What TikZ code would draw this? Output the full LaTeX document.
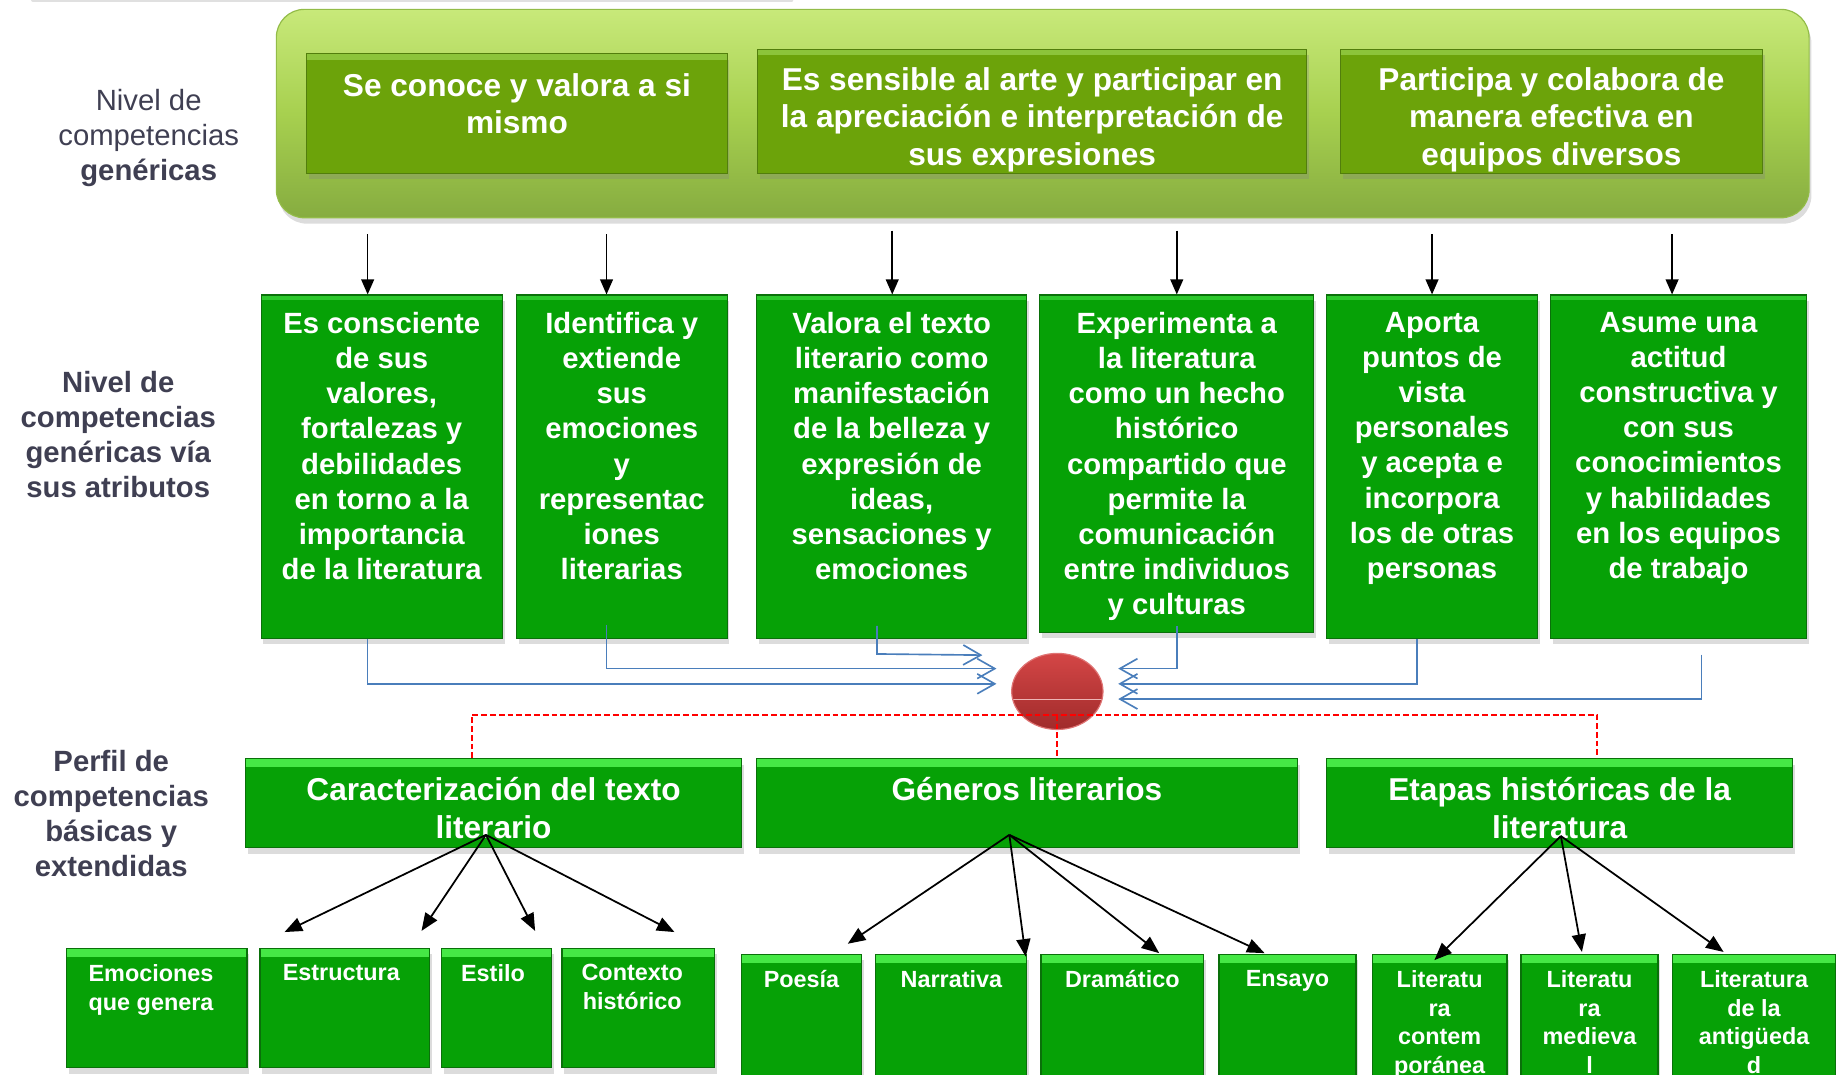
\documentclass[tikz,border=0pt]{standalone}
\usepackage{fontspec}
\setmainfont{Liberation Sans}
\usetikzlibrary{arrows.meta,shadows,positioning,shapes.geometric}

\definecolor{leafgreen}{HTML}{06A106}
\definecolor{leafedge}{HTML}{0A700A}
\definecolor{leaftop}{HTML}{45E845}
\definecolor{midtop}{HTML}{2CC82C}
\definecolor{olive}{HTML}{6CA30A}
\definecolor{oliveedge}{HTML}{527E0C}
\definecolor{olivetop}{HTML}{8CC43A}
\definecolor{limetop}{HTML}{C8E97A}
\definecolor{limemid}{HTML}{A7D04F}
\definecolor{limebot}{HTML}{86AC40}
\definecolor{limeedge}{HTML}{93BC48}
\definecolor{slate}{HTML}{3F3F52}
\definecolor{feedblue}{HTML}{4A7EBB}
\definecolor{eggtop}{HTML}{D44646}
\definecolor{eggbot}{HTML}{A02B2B}

\tikzset{
  sombra/.style={drop shadow={opacity=0.28, shadow xshift=2pt, shadow yshift=-5pt}},
  bevel/.style 2 args={path picture={
    \fill[#1] (path picture bounding box.north west) rectangle ([yshift=-#2]path picture bounding box.north east);}},
  bigbox/.style={rounded corners=24pt, draw=limeedge, line width=1pt, top color=limetop, bottom color=limebot, middle color=limemid, sombra},
  olivebox/.style={rectangle, inner sep=0pt, fill=olive, draw=oliveedge, line width=1pt, sombra, bevel={olivetop}{5pt}},
  midbox/.style={rectangle, inner sep=0pt, fill=leafgreen, draw=leafedge, line width=1pt, sombra, bevel={midtop}{4pt}},
  headbox/.style={rectangle, inner sep=0pt, fill=leafgreen, draw=leafedge, line width=1pt, sombra, bevel={leaftop}{7pt}},
  toptxt/.style={text=white, font=\fontsize{27pt}{32pt}\selectfont\bfseries, align=center, inner sep=0pt},
  midtxt/.style={text=white, font=\fontsize{25pt}{30pt}\selectfont\bfseries, align=center, inner sep=0pt},
  headtxt/.style={text=white, font=\fontsize{27pt}{33pt}\selectfont\bfseries, align=center, inner sep=0pt},
  leaftxt/.style={text=white, font=\fontsize{20pt}{24.5pt}\selectfont\bfseries, align=center, inner sep=0pt},
  sidetxt/.style={text=slate, font=\fontsize{25pt}{30pt}\selectfont, align=center, inner sep=0pt},
  genarrow/.style={-{Triangle[length=13pt,width=11pt]}, line width=1.4pt, black},
  feedline/.style={-{Straight Barb[length=15pt,width=17pt]}, feedblue, line width=1.4pt},
  redlink/.style={red, line width=1.6pt, dash pattern=on 5pt off 2.5pt},
  branch/.style={-{Triangle[length=15pt,width=12pt]}, line width=1.5pt, black}
}

\begin{document}
\begin{tikzpicture}[x=1pt,y=-1pt]
\useasboundingbox (0,0) rectangle (1568,918);
% borde de una figura cortada arriba
\draw[black!12, line width=3pt, line cap=round] (28,0) -- (676,0);

% nivel de competencias genericas
\node[bigbox, minimum width=1309pt, minimum height=178pt] (gen) at (890.5,97) {};
\node[olivebox, minimum width=359pt, minimum height=102pt] (g1) at (441.5,97) {};
\node[olivebox, minimum width=469pt, minimum height=106pt] (g2) at (881.5,95) {};
\node[olivebox, minimum width=360pt, minimum height=106pt] (g3) at (1325,95) {};
\node[toptxt, below=17pt of g1.north] (g1t) {Se conoce y valora a si\\mismo};
\node[toptxt, below=16pt of g2.north] (g2t) {Es sensible al arte y participar en\\la apreciación e interpretación de\\sus expresiones};
\node[toptxt, below=16pt of g3.north] (g3t) {Participa y colabora de\\manera efectiva en\\equipos diversos};

% etiquetas de la izquierda
\node[sidetxt] (lab1) at (127,118) {Nivel de\\competencias\\\textbf{genéricas}};
\node[sidetxt, font=\fontsize{25pt}{30pt}\selectfont\bfseries] (lab2) at (101,371) {Nivel de\\competencias\\genéricas vía\\sus atributos};
\node[sidetxt, font=\fontsize{25pt}{30pt}\selectfont\bfseries] (lab3) at (95,695) {Perfil de\\competencias\\básicas y\\extendidas};

% atributos
\node[midbox, minimum width=206pt, minimum height=293pt] (m1) at (326,398.5) {};
\node[midbox, minimum width=180pt, minimum height=293pt] (m2) at (531,398.5) {};
\node[midbox, minimum width=231pt, minimum height=293pt] (m3) at (761.5,398.5) {};
\node[midbox, minimum width=234pt, minimum height=288pt] (m4) at (1005,396) {};
\node[midbox, minimum width=180pt, minimum height=293pt] (m5) at (1223,398.5) {};
\node[midbox, minimum width=219pt, minimum height=293pt] (m6) at (1433.5,398.5) {};
\node[midtxt, below=15pt of m1.north] (m1t) {Es consciente\\de sus\\valores,\\fortalezas y\\debilidades\\en torno a la\\importancia\\de la literatura};
\node[midtxt, below=15pt of m2.north] (m2t) {Identifica y\\extiende\\sus\\emociones\\y\\representac\\iones\\literarias};
\node[midtxt, below=15pt of m3.north] (m3t) {Valora el texto\\literario como\\manifestación\\de la belleza y\\expresión de\\ideas,\\sensaciones y\\emociones};
\node[midtxt, below=15pt of m4.north] (m4t) {Experimenta a\\la literatura\\como un hecho\\histórico\\compartido que\\permite la\\comunicación\\entre individuos\\y culturas};
\node[midtxt, below=15pt of m5.north] (m5t) {Aporta\\puntos de\\vista\\personales\\y acepta e\\incorpora\\los de otras\\personas};
\node[midtxt, below=15pt of m6.north] (m6t) {Asume una\\actitud\\constructiva y\\con sus\\conocimientos\\y habilidades\\en los equipos\\de trabajo};

% flechas de las competencias a sus atributos
\coordinate (a1) at (314,200);
\coordinate (a2) at (518,200);
\coordinate (a3) at (762,197);
\coordinate (a4) at (1005,197);
\coordinate (a5) at (1223,200);
\coordinate (a6) at (1428,200);
\draw[genarrow] (a1) -- (a1 |- m1.north);
\draw[genarrow] (a2) -- (a2 |- m2.north);
\draw[genarrow] (a3) -- (a3 |- m3.north);
\draw[genarrow] (a4) -- (a4 |- m4.north);
\draw[genarrow] (a5) -- (a5 |- m5.north);
\draw[genarrow] (a6) -- (a6 |- m6.north);

% punto de encuentro
\node[ellipse, inner sep=0pt, minimum width=78pt, minimum height=65pt, top color=eggtop, bottom color=eggbot,
  draw=eggtop!75!white, line width=1pt,
  path picture={\draw[eggtop!40!white, line width=1.3pt] ([yshift=-7pt]path picture bounding box.west) -- ([yshift=-7pt]path picture bounding box.east);}]
  (ell) at (903,590.5) {};

\path (ell.center) ++(-64,-31) coordinate (eL1);
\path (ell.center) ++(-52,-19.5) coordinate (eL2);
\path (ell.center) ++(-52,-6.5) coordinate (eL3);
\path (ell.center) ++(52,-19.5) coordinate (eR1);
\path (ell.center) ++(52,-6.5) coordinate (eR2);
\path (ell.center) ++(52,6.5) coordinate (eR3);
\coordinate (f6) at (1453,559);
\draw[feedline] ([xshift=-12pt]m1.south) |- (eL3);
\draw[feedline] ([xshift=-13pt,yshift=12pt]m2.south) |- (eL2);
\draw[feedline] ([xshift=-12.5pt,yshift=11pt]m3.south) -- ++(0,24) -- (eL1);
\draw[feedline] ([yshift=6pt]m4.south) |- (eR1);
\draw[feedline] ([xshift=-13pt]m5.south) |- (eR2);
\draw[feedline] (f6) |- (eR3);

% perfil de competencias basicas
\node[headbox, minimum width=423pt, minimum height=76pt] (h1) at (421.5,686) {};
\node[headbox, minimum width=462pt, minimum height=76pt] (h2) at (877,686) {};
\node[headbox, minimum width=398pt, minimum height=76pt] (h3) at (1332,686) {};
\node[headtxt, below=16pt of h1.north] (h1t) {Caracterización del texto\\literario};
\node[headtxt, below=16pt of h2.north] (h2t) {Géneros literarios};
\node[headtxt, below=16pt of h3.north] (h3t) {Etapas históricas de la\\literatura};

\coordinate (hub) at ([yshift=-20pt]ell.center);
\draw[redlink] ([xshift=-18.5pt]h1.north) |- (hub) -| ([xshift=32pt]h3.north);
\draw[redlink] (hub) -- (hub |- h2.north);

% contenidos
\node[headbox, minimum width=154pt, minimum height=102pt] (l1) at (134,861) {};
\node[headbox, minimum width=145pt, minimum height=102pt] (l2) at (294.5,861) {};
\node[headbox, minimum width=94pt, minimum height=102pt] (l3) at (424,861) {};
\node[headbox, minimum width=130pt, minimum height=102pt] (l4) at (545,861) {};
\node[headbox, minimum width=103pt, minimum height=104pt] (l5) at (684.5,867) {};
\node[headbox, minimum width=129pt, minimum height=104pt] (l6) at (812.5,867) {};
\node[headbox, minimum width=139pt, minimum height=104pt] (l7) at (958.5,867) {};
\node[headbox, minimum width=117pt, minimum height=104pt] (l8) at (1099.5,867) {};
\node[headbox, minimum width=115pt, minimum height=120pt] (l9) at (1229.5,875) {};
\node[headbox, minimum width=117pt, minimum height=120pt] (l10) at (1357.5,875) {};
\node[headbox, minimum width=140pt, minimum height=120pt] (l11) at (1498,875) {};
\node[leaftxt, below=14pt of l1.north, xshift=-5pt] (l1t) {Emociones\\que genera};
\node[leaftxt, below=14pt of l2.north, xshift=-3pt] (l2t) {Estructura};
\node[leaftxt, below=14pt of l3.north, xshift=-3pt] (l3t) {Estilo};
\node[leaftxt, below=14pt of l4.north, xshift=-5pt] (l4t) {Contexto\\histórico};
\node[leaftxt, below=14pt of l5.north] (l5t) {Poesía};
\node[leaftxt, below=14pt of l6.north] (l6t) {Narrativa};
\node[leaftxt, below=14pt of l7.north] (l7t) {Dramático};
\node[leaftxt, below=14pt of l8.north] (l8t) {Ensayo};
\node[leaftxt, below=14pt of l9.north] (l9t) {Literatu\\ra\\contem\\poránea};
\node[leaftxt, below=14pt of l10.north] (l10t) {Literatu\\ra\\medieva\\l};
\node[leaftxt, below=14pt of l11.north] (l11t) {Literatura\\de la\\antigüeda\\d};

\coordinate (h1o) at (415,713);
\coordinate (h2o) at (862,713);
\coordinate (h3o) at (1333,714);
\coordinate (t1) at (243,796);
\coordinate (t2) at (360,795);
\coordinate (t3) at (457,795);
\coordinate (t4) at (576,796);
\coordinate (t5) at (724,806);
\coordinate (t6) at (876,817);
\coordinate (t7) at (990,814);
\coordinate (t8) at (1080,814);
\coordinate (t9) at (1225,820);
\coordinate (t10) at (1351,813);
\coordinate (t11) at (1472,813);
\foreach \t in {t1,t2,t3,t4}
  \draw[branch] (h1o) -- (\t);
\foreach \t in {t5,t6,t7,t8}
  \draw[branch] (h2o) -- (\t);
\foreach \t in {t9,t10,t11}
  \draw[branch] (h3o) -- (\t);
\end{tikzpicture}
\end{document}
